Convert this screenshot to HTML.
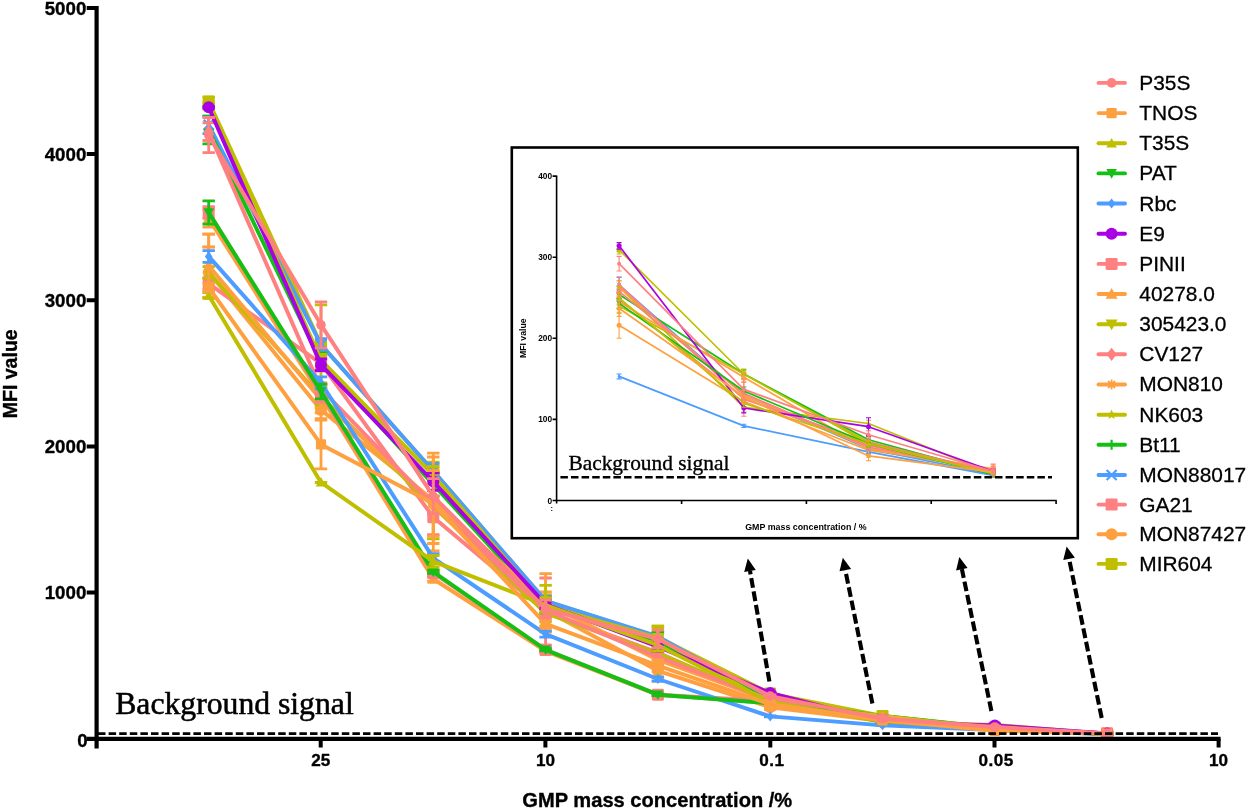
<!DOCTYPE html>
<html><head><meta charset="utf-8"><title>MFI value vs GMP mass concentration</title>
<style>html,body{margin:0;padding:0;background:#fff}svg{display:block}svg{will-change:transform;transform:translateZ(0)}</style></head>
<body>
<svg width="1247" height="809" viewBox="0 0 1247 809">
<rect width="1247" height="809" fill="#fff"/>
<g id="main">
<path d="M208.7 97.1V105.8M202.5 97.1H214.9M202.5 105.8H214.9M321.0 304.8V384.3M314.8 304.8H327.2M314.8 384.3H327.2M433.3 462.2V479.8M427.1 462.2H439.5M427.1 479.8H439.5M545.6 595.0V606.7M539.4 595.0H551.8M539.4 606.7H551.8M657.9 628.4V646.0M651.7 628.4H664.1M651.7 646.0H664.1M770.2 692.9V694.4M764.0 692.9H776.4M764.0 694.4H776.4M882.5 715.1V716.9M876.3 715.1H888.7M876.3 716.9H888.7M994.8 727.7V728.9M988.6 727.7H1001.0M988.6 728.9H1001.0M1107.1 733.2V734.1M1100.9 733.2H1113.3M1100.9 734.1H1113.3" stroke="#BFBF00" stroke-width="2.8" fill="none"/>
<polyline points="208.7,101.5 321.0,344.6 433.3,471.0 545.6,600.8 657.9,637.2 770.2,693.6 882.5,716.0 994.8,728.3 1107.1,733.7" stroke="#BFBF00" stroke-width="3.95" fill="none" stroke-linejoin="round" stroke-linecap="round"/>
<rect x="202.7" y="95.5" width="12.0" height="12.0" rx="1.4" fill="#BFBF00"/>
<rect x="315.0" y="338.6" width="12.0" height="12.0" rx="1.4" fill="#BFBF00"/>
<rect x="427.3" y="465.0" width="12.0" height="12.0" rx="1.4" fill="#BFBF00"/>
<rect x="539.6" y="594.8" width="12.0" height="12.0" rx="1.4" fill="#BFBF00"/>
<rect x="651.9" y="631.2" width="12.0" height="12.0" rx="1.4" fill="#BFBF00"/>
<rect x="764.2" y="687.6" width="12.0" height="12.0" rx="1.4" fill="#BFBF00"/>
<rect x="876.5" y="710.0" width="12.0" height="12.0" rx="1.4" fill="#BFBF00"/>
<rect x="988.8" y="722.3" width="12.0" height="12.0" rx="1.4" fill="#BFBF00"/>
<rect x="1101.1" y="727.7" width="12.0" height="12.0" rx="1.4" fill="#BFBF00"/>
<path d="M208.7 247.1V297.3M202.5 247.1H214.9M202.5 297.3H214.9M321.0 401.1V418.7M314.8 401.1H327.2M314.8 418.7H327.2M433.3 457.0V543.5M427.1 457.0H439.5M427.1 543.5H439.5M545.6 592.0V628.3M539.4 592.0H551.8M539.4 628.3H551.8M657.9 663.5V678.1M651.7 663.5H664.1M651.7 678.1H664.1M770.2 704.9V709.6M764.0 704.9H776.4M764.0 709.6H776.4M882.5 719.9V722.0M876.3 719.9H888.7M876.3 722.0H888.7M994.8 729.0V730.5M988.6 729.0H1001.0M988.6 730.5H1001.0M1107.1 732.7V733.8M1100.9 732.7H1113.3M1100.9 733.8H1113.3" stroke="#FFA040" stroke-width="2.8" fill="none"/>
<polyline points="208.7,272.2 321.0,409.9 433.3,500.2 545.6,610.2 657.9,670.8 770.2,707.2 882.5,721.0 994.8,729.7 1107.1,733.2" stroke="#FFA040" stroke-width="3.95" fill="none" stroke-linejoin="round" stroke-linecap="round"/>
<circle cx="208.7" cy="272.2" r="6.0" fill="#FFA040"/>
<circle cx="321.0" cy="409.9" r="6.0" fill="#FFA040"/>
<circle cx="433.3" cy="500.2" r="6.0" fill="#FFA040"/>
<circle cx="545.6" cy="610.2" r="6.0" fill="#FFA040"/>
<circle cx="657.9" cy="670.8" r="6.0" fill="#FFA040"/>
<circle cx="770.2" cy="707.2" r="6.0" fill="#FFA040"/>
<circle cx="882.5" cy="721.0" r="6.0" fill="#FFA040"/>
<circle cx="994.8" cy="729.7" r="6.0" fill="#FFA040"/>
<circle cx="1107.1" cy="733.2" r="6.0" fill="#FFA040"/>
<path d="M208.7 277.7V289.4M202.5 277.7H214.9M202.5 289.4H214.9M321.0 356.4V371.0M314.8 356.4H327.2M314.8 371.0H327.2M433.3 499.6V534.7M427.1 499.6H439.5M427.1 534.7H439.5M545.6 578.0V645.2M539.4 578.0H551.8M539.4 645.2H551.8M657.9 645.2V659.9M651.7 645.2H664.1M651.7 659.9H664.1M770.2 701.5V703.6M764.0 701.5H776.4M764.0 703.6H776.4M882.5 719.5V721.3M876.3 719.5H888.7M876.3 721.3H888.7M994.8 728.1V729.6M988.6 728.1H1001.0M988.6 729.6H1001.0M1107.1 733.0V734.1M1100.9 733.0H1113.3M1100.9 734.1H1113.3" stroke="#FF8080" stroke-width="2.8" fill="none"/>
<polyline points="208.7,283.6 321.0,363.7 433.3,517.2 545.6,611.6 657.9,652.6 770.2,702.5 882.5,720.4 994.8,728.9 1107.1,733.5" stroke="#FF8080" stroke-width="3.95" fill="none" stroke-linejoin="round" stroke-linecap="round"/>
<rect x="202.7" y="277.6" width="12.0" height="12.0" rx="1.4" fill="#FF8080"/>
<rect x="315.0" y="357.7" width="12.0" height="12.0" rx="1.4" fill="#FF8080"/>
<rect x="427.3" y="511.2" width="12.0" height="12.0" rx="1.4" fill="#FF8080"/>
<rect x="539.6" y="605.6" width="12.0" height="12.0" rx="1.4" fill="#FF8080"/>
<rect x="651.9" y="646.6" width="12.0" height="12.0" rx="1.4" fill="#FF8080"/>
<rect x="764.2" y="696.5" width="12.0" height="12.0" rx="1.4" fill="#FF8080"/>
<rect x="876.5" y="714.4" width="12.0" height="12.0" rx="1.4" fill="#FF8080"/>
<rect x="988.8" y="722.9" width="12.0" height="12.0" rx="1.4" fill="#FF8080"/>
<rect x="1101.1" y="727.5" width="12.0" height="12.0" rx="1.4" fill="#FF8080"/>
<path d="M208.7 116.1V133.6M202.5 116.1H214.9M202.5 133.6H214.9M321.0 338.7V350.4M314.8 338.7H327.2M314.8 350.4H327.2M433.3 463.7V478.3M427.1 463.7H439.5M427.1 478.3H439.5M545.6 596.4V605.2M539.4 596.4H551.8M539.4 605.2H551.8M657.9 632.1V640.9M651.7 632.1H664.1M651.7 640.9H664.1M770.2 698.6V701.2M764.0 698.6H776.4M764.0 701.2H776.4M882.5 718.9V720.7M876.3 718.9H888.7M876.3 720.7H888.7M994.8 728.9V730.0M988.6 728.9H1001.0M988.6 730.0H1001.0M1107.1 733.7V734.6M1100.9 733.7H1113.3M1100.9 734.6H1113.3" stroke="#4D9CFF" stroke-width="2.8" fill="none"/>
<polyline points="208.7,124.8 321.0,344.6 433.3,471.0 545.6,600.8 657.9,636.5 770.2,699.9 882.5,719.8 994.8,729.4 1107.1,734.1" stroke="#4D9CFF" stroke-width="3.95" fill="none" stroke-linejoin="round" stroke-linecap="round"/>
<path d="M203.7 119.8L213.7 129.8M203.7 129.8L213.7 119.8" stroke="#4D9CFF" stroke-width="2.4" fill="none"/>
<path d="M316.0 339.6L326.0 349.6M316.0 349.6L326.0 339.6" stroke="#4D9CFF" stroke-width="2.4" fill="none"/>
<path d="M428.3 466.0L438.3 476.0M428.3 476.0L438.3 466.0" stroke="#4D9CFF" stroke-width="2.4" fill="none"/>
<path d="M540.6 595.8L550.6 605.8M540.6 605.8L550.6 595.8" stroke="#4D9CFF" stroke-width="2.4" fill="none"/>
<path d="M652.9 631.5L662.9 641.5M652.9 641.5L662.9 631.5" stroke="#4D9CFF" stroke-width="2.4" fill="none"/>
<path d="M765.2 694.9L775.2 704.9M765.2 704.9L775.2 694.9" stroke="#4D9CFF" stroke-width="2.4" fill="none"/>
<path d="M877.5 714.8L887.5 724.8M877.5 724.8L887.5 714.8" stroke="#4D9CFF" stroke-width="2.4" fill="none"/>
<path d="M989.8 724.4L999.8 734.4M989.8 734.4L999.8 724.4" stroke="#4D9CFF" stroke-width="2.4" fill="none"/>
<path d="M1102.1 729.1L1112.1 739.1M1102.1 739.1L1112.1 729.1" stroke="#4D9CFF" stroke-width="2.4" fill="none"/>
<path d="M208.7 116.1V143.8M202.5 116.1H214.9M202.5 143.8H214.9M321.0 352.9V370.4M314.8 352.9H327.2M314.8 370.4H327.2M433.3 472.8V496.1M427.1 472.8H439.5M427.1 496.1H439.5M545.6 601.4V613.1M539.4 601.4H551.8M539.4 613.1H551.8M657.9 632.1V649.6M651.7 632.1H664.1M651.7 649.6H664.1M770.2 700.5V702.8M764.0 700.5H776.4M764.0 702.8H776.4M882.5 715.3V716.7M876.3 715.3H888.7M876.3 716.7H888.7M994.8 727.3V728.4M988.6 727.3H1001.0M988.6 728.4H1001.0M1107.1 733.5V734.4M1100.9 733.5H1113.3M1100.9 734.4H1113.3" stroke="#15C015" stroke-width="2.8" fill="none"/>
<polyline points="208.7,130.0 321.0,361.7 433.3,484.4 545.6,607.2 657.9,640.9 770.2,701.7 882.5,716.0 994.8,727.8 1107.1,734.0" stroke="#15C015" stroke-width="3.95" fill="none" stroke-linejoin="round" stroke-linecap="round"/>
<path d="M203.7 130.0H213.7M208.7 125.0V135.0" stroke="#15C015" stroke-width="2.4" fill="none"/>
<path d="M316.0 361.7H326.0M321.0 356.7V366.7" stroke="#15C015" stroke-width="2.4" fill="none"/>
<path d="M428.3 484.4H438.3M433.3 479.4V489.4" stroke="#15C015" stroke-width="2.4" fill="none"/>
<path d="M540.6 607.2H550.6M545.6 602.2V612.2" stroke="#15C015" stroke-width="2.4" fill="none"/>
<path d="M652.9 640.9H662.9M657.9 635.9V645.9" stroke="#15C015" stroke-width="2.4" fill="none"/>
<path d="M765.2 701.7H775.2M770.2 696.7V706.7" stroke="#15C015" stroke-width="2.4" fill="none"/>
<path d="M877.5 716.0H887.5M882.5 711.0V721.0" stroke="#15C015" stroke-width="2.4" fill="none"/>
<path d="M989.8 727.8H999.8M994.8 722.8V732.8" stroke="#15C015" stroke-width="2.4" fill="none"/>
<path d="M1102.1 734.0H1112.1M1107.1 729.0V739.0" stroke="#15C015" stroke-width="2.4" fill="none"/>
<path d="M208.7 266.6V278.3M202.5 266.6H214.9M202.5 278.3H214.9M321.0 388.0V405.5M314.8 388.0H327.2M314.8 405.5H327.2M433.3 473.9V538.8M427.1 473.9H439.5M427.1 538.8H439.5M545.6 604.3V621.9M539.4 604.3H551.8M539.4 621.9H551.8M657.9 626.1V681.1M651.7 626.1H664.1M651.7 681.1H664.1M770.2 699.2V701.5M764.0 699.2H776.4M764.0 701.5H776.4M882.5 721.1V722.9M876.3 721.1H888.7M876.3 722.9H888.7M994.8 724.3V725.5M988.6 724.3H1001.0M988.6 725.5H1001.0M1107.1 733.5V734.4M1100.9 733.5H1113.3M1100.9 734.4H1113.3" stroke="#BFBF00" stroke-width="2.8" fill="none"/>
<polyline points="208.7,272.5 321.0,396.7 433.3,506.4 545.6,613.1 657.9,653.6 770.2,700.4 882.5,722.0 994.8,724.9 1107.1,734.0" stroke="#BFBF00" stroke-width="3.95" fill="none" stroke-linejoin="round" stroke-linecap="round"/>
<path d="M208.7 267.2L210.0 270.7L213.7 270.9L210.8 273.2L211.8 276.7L208.7 274.7L205.6 276.7L206.6 273.2L203.7 270.9L207.4 270.7Z" fill="#BFBF00"/>
<path d="M321.0 391.5L322.3 394.9L326.0 395.1L323.1 397.4L324.1 401.0L321.0 399.0L317.9 401.0L318.9 397.4L316.0 395.1L319.7 394.9Z" fill="#BFBF00"/>
<path d="M433.3 501.1L434.6 504.6L438.3 504.8L435.4 507.1L436.4 510.6L433.3 508.6L430.2 510.6L431.2 507.1L428.3 504.8L432.0 504.6Z" fill="#BFBF00"/>
<path d="M545.6 607.8L546.9 611.3L550.6 611.5L547.7 613.8L548.7 617.3L545.6 615.3L542.5 617.3L543.5 613.8L540.6 611.5L544.3 611.3Z" fill="#BFBF00"/>
<path d="M657.9 648.3L659.2 651.8L662.9 652.0L660.0 654.3L661.0 657.8L657.9 655.8L654.8 657.8L655.8 654.3L652.9 652.0L656.6 651.8Z" fill="#BFBF00"/>
<path d="M770.2 695.1L771.5 698.5L775.2 698.7L772.3 701.0L773.3 704.6L770.2 702.6L767.1 704.6L768.1 701.0L765.2 698.7L768.9 698.5Z" fill="#BFBF00"/>
<path d="M882.5 716.7L883.8 720.2L887.5 720.4L884.6 722.7L885.6 726.2L882.5 724.2L879.4 726.2L880.4 722.7L877.5 720.4L881.2 720.2Z" fill="#BFBF00"/>
<path d="M994.8 719.7L996.1 723.1L999.8 723.3L996.9 725.6L997.9 729.2L994.8 727.2L991.7 729.2L992.7 725.6L989.8 723.3L993.5 723.1Z" fill="#BFBF00"/>
<path d="M1107.1 728.7L1108.4 732.2L1112.1 732.4L1109.2 734.7L1110.2 738.2L1107.1 736.2L1104.0 738.2L1105.0 734.7L1102.1 732.4L1105.8 732.2Z" fill="#BFBF00"/>
<path d="M208.7 234.2V297.3M202.5 234.2H214.9M202.5 297.3H214.9M321.0 386.5V412.8M314.8 386.5H327.2M314.8 412.8H327.2M433.3 453.2V550.8M427.1 453.2H439.5M427.1 550.8H439.5M545.6 573.6V632.1M539.4 573.6H551.8M539.4 632.1H551.8M657.9 651.1V668.6M651.7 651.1H664.1M651.7 668.6H664.1M770.2 699.2V701.5M764.0 699.2H776.4M764.0 701.5H776.4M882.5 718.9V720.7M876.3 718.9H888.7M876.3 720.7H888.7M994.8 728.6V730.0M988.6 728.6H1001.0M988.6 730.0H1001.0M1107.1 732.4V733.8M1100.9 732.4H1113.3M1100.9 733.8H1113.3" stroke="#FFA040" stroke-width="2.8" fill="none"/>
<polyline points="208.7,265.8 321.0,399.7 433.3,502.0 545.6,602.9 657.9,659.9 770.2,700.4 882.5,719.8 994.8,729.3 1107.1,733.1" stroke="#FFA040" stroke-width="3.95" fill="none" stroke-linejoin="round" stroke-linecap="round"/>
<path d="M203.7 265.8H213.7M208.7 260.8V270.8M205.2 262.3L212.2 269.3M205.2 269.3L212.2 262.3" stroke="#FFA040" stroke-width="2.0" fill="none"/>
<path d="M316.0 399.7H326.0M321.0 394.7V404.7M317.5 396.2L324.5 403.2M317.5 403.2L324.5 396.2" stroke="#FFA040" stroke-width="2.0" fill="none"/>
<path d="M428.3 502.0H438.3M433.3 497.0V507.0M429.8 498.5L436.8 505.5M429.8 505.5L436.8 498.5" stroke="#FFA040" stroke-width="2.0" fill="none"/>
<path d="M540.6 602.9H550.6M545.6 597.9V607.9M542.1 599.4L549.1 606.4M542.1 606.4L549.1 599.4" stroke="#FFA040" stroke-width="2.0" fill="none"/>
<path d="M652.9 659.9H662.9M657.9 654.9V664.9M654.4 656.4L661.4 663.4M654.4 663.4L661.4 656.4" stroke="#FFA040" stroke-width="2.0" fill="none"/>
<path d="M765.2 700.4H775.2M770.2 695.4V705.4M766.7 696.9L773.7 703.9M766.7 703.9L773.7 696.9" stroke="#FFA040" stroke-width="2.0" fill="none"/>
<path d="M877.5 719.8H887.5M882.5 714.8V724.8M879.0 716.3L886.0 723.3M879.0 723.3L886.0 716.3" stroke="#FFA040" stroke-width="2.0" fill="none"/>
<path d="M989.8 729.3H999.8M994.8 724.3V734.3M991.3 725.8L998.3 732.8M991.3 732.8L998.3 725.8" stroke="#FFA040" stroke-width="2.0" fill="none"/>
<path d="M1102.1 733.1H1112.1M1107.1 728.1V738.1M1103.6 729.6L1110.6 736.6M1103.6 736.6L1110.6 729.6" stroke="#FFA040" stroke-width="2.0" fill="none"/>
<path d="M208.7 122.9V140.5M202.5 122.9H214.9M202.5 140.5H214.9M321.0 383.0V394.7M314.8 383.0H327.2M314.8 394.7H327.2M433.3 496.1V513.7M427.1 496.1H439.5M427.1 513.7H439.5M545.6 604.3V616.0M539.4 604.3H551.8M539.4 616.0H551.8M657.9 648.2V665.7M651.7 648.2H664.1M651.7 665.7H664.1M770.2 698.5V701.4M764.0 698.5H776.4M764.0 701.4H776.4M882.5 717.5V723.6M876.3 717.5H888.7M876.3 723.6H888.7M994.8 727.4V729.2M988.6 727.4H1001.0M988.6 729.2H1001.0M1107.1 733.1V734.3M1100.9 733.1H1113.3M1100.9 734.3H1113.3" stroke="#FF8080" stroke-width="2.8" fill="none"/>
<polyline points="208.7,131.7 321.0,388.8 433.3,504.9 545.6,610.2 657.9,656.9 770.2,699.9 882.5,720.5 994.8,728.3 1107.1,733.7" stroke="#FF8080" stroke-width="3.95" fill="none" stroke-linejoin="round" stroke-linecap="round"/>
<path d="M203.6 131.7L208.7 125.1L213.8 131.7L208.7 138.3Z" fill="#FF8080"/>
<path d="M315.9 388.8L321.0 382.2L326.1 388.8L321.0 395.4Z" fill="#FF8080"/>
<path d="M428.2 504.9L433.3 498.3L438.4 504.9L433.3 511.5Z" fill="#FF8080"/>
<path d="M540.5 610.2L545.6 603.6L550.7 610.2L545.6 616.8Z" fill="#FF8080"/>
<path d="M652.8 656.9L657.9 650.3L663.0 656.9L657.9 663.5Z" fill="#FF8080"/>
<path d="M765.1 699.9L770.2 693.3L775.3 699.9L770.2 706.5Z" fill="#FF8080"/>
<path d="M877.4 720.5L882.5 713.9L887.6 720.5L882.5 727.1Z" fill="#FF8080"/>
<path d="M989.7 728.3L994.8 721.7L999.9 728.3L994.8 734.9Z" fill="#FF8080"/>
<path d="M1102.0 733.7L1107.1 727.1L1112.2 733.7L1107.1 740.3Z" fill="#FF8080"/>
<path d="M208.7 102.9V108.8M202.5 102.9H214.9M202.5 108.8H214.9M321.0 354.3V366.0M314.8 354.3H327.2M314.8 366.0H327.2M433.3 466.5V484.0M427.1 466.5H439.5M427.1 484.0H439.5M545.6 585.3V626.2M539.4 585.3H551.8M539.4 626.2H551.8M657.9 626.2V649.6M651.7 626.2H664.1M651.7 649.6H664.1M770.2 702.4V705.0M764.0 702.4H776.4M764.0 705.0H776.4M882.5 715.3V716.7M876.3 715.3H888.7M876.3 716.7H888.7M994.8 728.0V729.2M988.6 728.0H1001.0M988.6 729.2H1001.0M1107.1 733.4V734.3M1100.9 733.4H1113.3M1100.9 734.3H1113.3" stroke="#BFBF00" stroke-width="2.8" fill="none"/>
<polyline points="208.7,105.8 321.0,360.2 433.3,475.2 545.6,605.8 657.9,637.9 770.2,703.7 882.5,716.0 994.8,728.6 1107.1,733.8" stroke="#BFBF00" stroke-width="3.95" fill="none" stroke-linejoin="round" stroke-linecap="round"/>
<path d="M202.7 101.0L214.7 101.0L208.7 111.8Z" fill="#BFBF00"/>
<path d="M315.0 355.4L327.0 355.4L321.0 366.2Z" fill="#BFBF00"/>
<path d="M427.3 470.4L439.3 470.4L433.3 481.2Z" fill="#BFBF00"/>
<path d="M539.6 601.0L551.6 601.0L545.6 611.8Z" fill="#BFBF00"/>
<path d="M651.9 633.1L663.9 633.1L657.9 643.9Z" fill="#BFBF00"/>
<path d="M764.2 698.9L776.2 698.9L770.2 709.7Z" fill="#BFBF00"/>
<path d="M876.5 711.2L888.5 711.2L882.5 722.0Z" fill="#BFBF00"/>
<path d="M988.8 723.8L1000.8 723.8L994.8 734.6Z" fill="#BFBF00"/>
<path d="M1101.1 729.0L1113.1 729.0L1107.1 739.8Z" fill="#BFBF00"/>
<path d="M208.7 209.6V227.2M202.5 209.6H214.9M202.5 227.2H214.9M321.0 384.2V407.6M314.8 384.2H327.2M314.8 407.6H327.2M433.3 577.0V581.1M427.1 577.0H439.5M427.1 581.1H439.5M545.6 649.3V652.8M539.4 649.3H551.8M539.4 652.8H551.8M657.9 693.5V696.4M651.7 693.5H664.1M651.7 696.4H664.1M770.2 701.8V704.2M764.0 701.8H776.4M764.0 704.2H776.4M882.5 715.7V717.5M876.3 715.7H888.7M876.3 717.5H888.7M994.8 728.9V730.3M988.6 728.9H1001.0M988.6 730.3H1001.0M1107.1 732.7V733.8M1100.9 732.7H1113.3M1100.9 733.8H1113.3" stroke="#FFA040" stroke-width="2.8" fill="none"/>
<polyline points="208.7,218.4 321.0,395.9 433.3,579.0 545.6,651.1 657.9,694.9 770.2,703.0 882.5,716.6 994.8,729.6 1107.1,733.2" stroke="#FFA040" stroke-width="3.95" fill="none" stroke-linejoin="round" stroke-linecap="round"/>
<path d="M202.7 223.2L214.7 223.2L208.7 212.4Z" fill="#FFA040"/>
<path d="M315.0 400.7L327.0 400.7L321.0 389.9Z" fill="#FFA040"/>
<path d="M427.3 583.8L439.3 583.8L433.3 573.0Z" fill="#FFA040"/>
<path d="M539.6 655.9L551.6 655.9L545.6 645.1Z" fill="#FFA040"/>
<path d="M651.9 699.7L663.9 699.7L657.9 688.9Z" fill="#FFA040"/>
<path d="M764.2 707.8L776.2 707.8L770.2 697.0Z" fill="#FFA040"/>
<path d="M876.5 721.4L888.5 721.4L882.5 710.6Z" fill="#FFA040"/>
<path d="M988.8 734.4L1000.8 734.4L994.8 723.6Z" fill="#FFA040"/>
<path d="M1101.1 738.0L1113.1 738.0L1107.1 727.2Z" fill="#FFA040"/>
<path d="M208.7 206.7V218.4M202.5 206.7H214.9M202.5 218.4H214.9M321.0 384.8V402.3M314.8 384.8H327.2M314.8 402.3H327.2M433.3 571.1V574.6M427.1 571.1H439.5M427.1 574.6H439.5M545.6 648.3V651.2M539.4 648.3H551.8M539.4 651.2H551.8M657.9 693.5V695.8M651.7 693.5H664.1M651.7 695.8H664.1M770.2 700.1V702.1M764.0 700.1H776.4M764.0 702.1H776.4M882.5 718.8V720.2M876.3 718.8H888.7M876.3 720.2H888.7M994.8 728.6V729.7M988.6 728.6H1001.0M988.6 729.7H1001.0M1107.1 732.2V734.6M1100.9 732.2H1113.3M1100.9 734.6H1113.3" stroke="#FF8080" stroke-width="2.8" fill="none"/>
<polyline points="208.7,212.6 321.0,393.5 433.3,572.9 545.6,649.8 657.9,694.7 770.2,701.1 882.5,719.5 994.8,729.2 1107.1,733.4" stroke="#FF8080" stroke-width="3.95" fill="none" stroke-linejoin="round" stroke-linecap="round"/>
<rect x="202.7" y="206.6" width="12.0" height="12.0" rx="1.4" fill="#FF8080"/>
<rect x="315.0" y="387.5" width="12.0" height="12.0" rx="1.4" fill="#FF8080"/>
<rect x="427.3" y="566.9" width="12.0" height="12.0" rx="1.4" fill="#FF8080"/>
<rect x="539.6" y="643.8" width="12.0" height="12.0" rx="1.4" fill="#FF8080"/>
<rect x="651.9" y="688.7" width="12.0" height="12.0" rx="1.4" fill="#FF8080"/>
<rect x="764.2" y="695.1" width="12.0" height="12.0" rx="1.4" fill="#FF8080"/>
<rect x="876.5" y="713.5" width="12.0" height="12.0" rx="1.4" fill="#FF8080"/>
<rect x="988.8" y="723.2" width="12.0" height="12.0" rx="1.4" fill="#FF8080"/>
<rect x="1101.1" y="727.4" width="12.0" height="12.0" rx="1.4" fill="#FF8080"/>
<path d="M208.7 106.6V108.0M202.5 106.6H214.9M202.5 108.0H214.9M321.0 359.0V370.7M314.8 359.0H327.2M314.8 370.7H327.2M433.3 472.8V490.3M427.1 472.8H439.5M427.1 490.3H439.5M545.6 599.9V608.7M539.4 599.9H551.8M539.4 608.7H551.8M657.9 642.3V651.1M651.7 642.3H664.1M651.7 651.1H664.1M770.2 692.3V693.5M764.0 692.3H776.4M764.0 693.5H776.4M882.5 721.3V723.0M876.3 721.3H888.7M876.3 723.0H888.7M994.8 723.9V727.1M988.6 723.9H1001.0M988.6 727.1H1001.0M1107.1 733.1V734.0M1100.9 733.1H1113.3M1100.9 734.0H1113.3" stroke="#AA00E6" stroke-width="2.8" fill="none"/>
<polyline points="208.7,107.3 321.0,364.9 433.3,481.5 545.6,604.3 657.9,646.7 770.2,692.9 882.5,722.1 994.8,725.5 1107.1,733.5" stroke="#AA00E6" stroke-width="3.95" fill="none" stroke-linejoin="round" stroke-linecap="round"/>
<circle cx="208.7" cy="107.3" r="6.0" fill="#AA00E6"/>
<circle cx="321.0" cy="364.9" r="6.0" fill="#AA00E6"/>
<circle cx="433.3" cy="481.5" r="6.0" fill="#AA00E6"/>
<circle cx="545.6" cy="604.3" r="6.0" fill="#AA00E6"/>
<circle cx="657.9" cy="646.7" r="6.0" fill="#AA00E6"/>
<circle cx="770.2" cy="692.9" r="6.0" fill="#AA00E6"/>
<circle cx="882.5" cy="722.1" r="6.0" fill="#AA00E6"/>
<circle cx="994.8" cy="725.5" r="6.0" fill="#AA00E6"/>
<circle cx="1107.1" cy="733.5" r="6.0" fill="#AA00E6"/>
<path d="M208.7 250.6V262.3M202.5 250.6H214.9M202.5 262.3H214.9M321.0 376.9V388.6M314.8 376.9H327.2M314.8 388.6H327.2M433.3 553.7V562.5M427.1 553.7H439.5M427.1 562.5H439.5M545.6 631.2V637.1M539.4 631.2H551.8M539.4 637.1H551.8M657.9 676.8V681.2M651.7 676.8H664.1M651.7 681.2H664.1M770.2 716.0V716.9M764.0 716.0H776.4M764.0 716.9H776.4M882.5 725.1V725.6M876.3 725.1H888.7M876.3 725.6H888.7M994.8 729.7V730.3M988.6 729.7H1001.0M988.6 730.3H1001.0M1107.1 734.0V734.6M1100.9 734.0H1113.3M1100.9 734.6H1113.3" stroke="#4D9CFF" stroke-width="2.8" fill="none"/>
<polyline points="208.7,256.4 321.0,382.7 433.3,558.1 545.6,634.1 657.9,679.0 770.2,716.4 882.5,725.4 994.8,730.0 1107.1,734.3" stroke="#4D9CFF" stroke-width="3.95" fill="none" stroke-linejoin="round" stroke-linecap="round"/>
<path d="M204.9 256.4L208.7 251.5L212.5 256.4L208.7 261.4Z" fill="#4D9CFF"/>
<path d="M317.2 382.7L321.0 377.8L324.8 382.7L321.0 387.7Z" fill="#4D9CFF"/>
<path d="M429.5 558.1L433.3 553.2L437.1 558.1L433.3 563.1Z" fill="#4D9CFF"/>
<path d="M541.8 634.1L545.6 629.2L549.4 634.1L545.6 639.1Z" fill="#4D9CFF"/>
<path d="M654.1 679.0L657.9 674.1L661.7 679.0L657.9 684.0Z" fill="#4D9CFF"/>
<path d="M766.4 716.4L770.2 711.5L774.0 716.4L770.2 721.4Z" fill="#4D9CFF"/>
<path d="M878.7 725.4L882.5 720.4L886.3 725.4L882.5 730.3Z" fill="#4D9CFF"/>
<path d="M991.0 730.0L994.8 725.1L998.6 730.0L994.8 735.0Z" fill="#4D9CFF"/>
<path d="M1103.3 734.3L1107.1 729.3L1110.9 734.3L1107.1 739.2Z" fill="#4D9CFF"/>
<path d="M208.7 200.9V224.2M202.5 200.9H214.9M202.5 224.2H214.9M321.0 384.2V398.8M314.8 384.2H327.2M314.8 398.8H327.2M433.3 570.4V573.3M427.1 570.4H439.5M427.1 573.3H439.5M545.6 648.6V650.9M539.4 648.6H551.8M539.4 650.9H551.8M657.9 693.8V695.5M651.7 693.8H664.1M651.7 695.5H664.1M770.2 702.4V704.2M764.0 702.4H776.4M764.0 704.2H776.4M882.5 718.3V719.8M876.3 718.3H888.7M876.3 719.8H888.7M994.8 728.0V729.2M988.6 728.0H1001.0M988.6 729.2H1001.0M1107.1 733.8V734.4M1100.9 733.8H1113.3M1100.9 734.4H1113.3" stroke="#15C015" stroke-width="2.8" fill="none"/>
<polyline points="208.7,212.6 321.0,391.5 433.3,571.9 545.6,649.8 657.9,694.7 770.2,703.3 882.5,719.1 994.8,728.6 1107.1,734.1" stroke="#15C015" stroke-width="3.95" fill="none" stroke-linejoin="round" stroke-linecap="round"/>
<path d="M203.4 208.3L214.0 208.3L208.7 217.9Z" fill="#15C015"/>
<path d="M315.7 387.2L326.3 387.2L321.0 396.8Z" fill="#15C015"/>
<path d="M428.0 567.6L438.6 567.6L433.3 577.2Z" fill="#15C015"/>
<path d="M540.3 645.5L550.9 645.5L545.6 655.1Z" fill="#15C015"/>
<path d="M652.6 690.4L663.2 690.4L657.9 700.0Z" fill="#15C015"/>
<path d="M764.9 699.0L775.5 699.0L770.2 708.6Z" fill="#15C015"/>
<path d="M877.2 714.8L887.8 714.8L882.5 724.4Z" fill="#15C015"/>
<path d="M989.5 724.3L1000.1 724.3L994.8 733.9Z" fill="#15C015"/>
<path d="M1101.8 729.9L1112.4 729.9L1107.1 739.4Z" fill="#15C015"/>
<path d="M208.7 292.5V298.4M202.5 292.5H214.9M202.5 298.4H214.9M321.0 482.3V482.5M314.8 482.3H327.2M314.8 482.5H327.2M433.3 555.5V567.2M427.1 555.5H439.5M427.1 567.2H439.5M545.6 597.7V612.4M539.4 597.7H551.8M539.4 612.4H551.8M657.9 639.4V651.1M651.7 639.4H664.1M651.7 651.1H664.1M770.2 700.2V704.3M764.0 700.2H776.4M764.0 704.3H776.4M882.5 720.5V722.0M876.3 720.5H888.7M876.3 722.0H888.7M994.8 728.0V729.2M988.6 728.0H1001.0M988.6 729.2H1001.0M1107.1 733.5V734.4M1100.9 733.5H1113.3M1100.9 734.4H1113.3" stroke="#BFBF00" stroke-width="2.8" fill="none"/>
<polyline points="208.7,295.4 321.0,482.4 433.3,561.3 545.6,605.0 657.9,645.2 770.2,702.3 882.5,721.3 994.8,728.6 1107.1,734.0" stroke="#BFBF00" stroke-width="3.95" fill="none" stroke-linejoin="round" stroke-linecap="round"/>
<path d="M203.4 299.7L214.0 299.7L208.7 290.1Z" fill="#BFBF00"/>
<path d="M315.7 486.6L326.3 486.6L321.0 477.1Z" fill="#BFBF00"/>
<path d="M428.0 565.6L438.6 565.6L433.3 556.0Z" fill="#BFBF00"/>
<path d="M540.3 609.3L550.9 609.3L545.6 599.7Z" fill="#BFBF00"/>
<path d="M652.6 649.5L663.2 649.5L657.9 639.9Z" fill="#BFBF00"/>
<path d="M764.9 706.5L775.5 706.5L770.2 697.0Z" fill="#BFBF00"/>
<path d="M877.2 725.5L887.8 725.5L882.5 716.0Z" fill="#BFBF00"/>
<path d="M989.5 732.8L1000.1 732.8L994.8 723.3Z" fill="#BFBF00"/>
<path d="M1101.8 738.2L1112.4 738.2L1107.1 728.7Z" fill="#BFBF00"/>
<path d="M208.7 283.2V291.9M202.5 283.2H214.9M202.5 291.9H214.9M321.0 420.0V468.8M314.8 420.0H327.2M314.8 468.8H327.2M433.3 470.6V536.3M427.1 470.6H439.5M427.1 536.3H439.5M545.6 619.8V628.0M539.4 619.8H551.8M539.4 628.0H551.8M657.9 659.9V671.6M651.7 659.9H664.1M651.7 671.6H664.1M770.2 702.7V705.6M764.0 702.7H776.4M764.0 705.6H776.4M882.5 718.9V721.3M876.3 718.9H888.7M876.3 721.3H888.7M994.8 729.9V731.6M988.6 729.9H1001.0M988.6 731.6H1001.0M1107.1 733.2V734.1M1100.9 733.2H1113.3M1100.9 734.1H1113.3" stroke="#FFA040" stroke-width="2.8" fill="none"/>
<polyline points="208.7,287.5 321.0,444.4 433.3,503.5 545.6,623.9 657.9,665.7 770.2,704.2 882.5,720.1 994.8,730.8 1107.1,733.7" stroke="#FFA040" stroke-width="3.95" fill="none" stroke-linejoin="round" stroke-linecap="round"/>
<rect x="203.6" y="282.4" width="10.2" height="10.2" rx="1.2" fill="#FFA040"/>
<rect x="315.9" y="439.3" width="10.2" height="10.2" rx="1.2" fill="#FFA040"/>
<rect x="428.2" y="498.4" width="10.2" height="10.2" rx="1.2" fill="#FFA040"/>
<rect x="540.5" y="618.8" width="10.2" height="10.2" rx="1.2" fill="#FFA040"/>
<rect x="652.8" y="660.6" width="10.2" height="10.2" rx="1.2" fill="#FFA040"/>
<rect x="765.1" y="699.1" width="10.2" height="10.2" rx="1.2" fill="#FFA040"/>
<rect x="877.4" y="715.0" width="10.2" height="10.2" rx="1.2" fill="#FFA040"/>
<rect x="989.7" y="725.7" width="10.2" height="10.2" rx="1.2" fill="#FFA040"/>
<rect x="1102.0" y="728.6" width="10.2" height="10.2" rx="1.2" fill="#FFA040"/>
<path d="M208.7 117.5V152.6M202.5 117.5H214.9M202.5 152.6H214.9M321.0 301.9V347.8M314.8 301.9H327.2M314.8 347.8H327.2M433.3 478.7V513.8M427.1 478.7H439.5M427.1 513.8H439.5M545.6 600.2V617.8M539.4 600.2H551.8M539.4 617.8H551.8M657.9 630.2V647.7M651.7 630.2H664.1M651.7 647.7H664.1M770.2 694.8V697.4M764.0 694.8H776.4M764.0 697.4H776.4M882.5 717.0V720.5M876.3 717.0H888.7M876.3 720.5H888.7M994.8 726.2V727.7M988.6 726.2H1001.0M988.6 727.7H1001.0M1107.1 733.0V734.1M1100.9 733.0H1113.3M1100.9 734.1H1113.3" stroke="#FF8080" stroke-width="2.8" fill="none"/>
<polyline points="208.7,135.1 321.0,324.8 433.3,496.3 545.6,609.0 657.9,639.0 770.2,696.1 882.5,718.8 994.8,727.0 1107.1,733.5" stroke="#FF8080" stroke-width="3.95" fill="none" stroke-linejoin="round" stroke-linecap="round"/>
<circle cx="208.7" cy="135.1" r="4.8" fill="#FF8080"/>
<circle cx="321.0" cy="324.8" r="4.8" fill="#FF8080"/>
<circle cx="433.3" cy="496.3" r="4.8" fill="#FF8080"/>
<circle cx="545.6" cy="609.0" r="4.8" fill="#FF8080"/>
<circle cx="657.9" cy="639.0" r="4.8" fill="#FF8080"/>
<circle cx="770.2" cy="696.1" r="4.8" fill="#FF8080"/>
<circle cx="882.5" cy="718.8" r="4.8" fill="#FF8080"/>
<circle cx="994.8" cy="727.0" r="4.8" fill="#FF8080"/>
<circle cx="1107.1" cy="733.5" r="4.8" fill="#FF8080"/>
<path d="M208.7 234.1V246.9M202.5 234.1H214.9M202.5 246.9H214.9" stroke="#FFA040" stroke-width="2.8" fill="none"/>
</g>
<line x1="98" y1="733.6" x2="1218" y2="733.6" stroke="#000" stroke-width="2.8" stroke-dasharray="7.5 3.1"/>
<path d="M96.6 5.9V748.6" stroke="#000" stroke-width="4.2" fill="none"/>
<path d="M86.7 738.8H1220.6" stroke="#000" stroke-width="4.2" fill="none"/>
<path d="M86.7 592.6H96.6M86.7 446.4H96.6M86.7 300.3H96.6M86.7 154.1H96.6M86.7 7.9H96.6M320.7 738.8V747.4M545.4 738.8V747.4M770.3 738.8V747.4M994.5 738.8V747.4M1218.6 738.8V747.4" stroke="#000" stroke-width="4" fill="none"/>
<g font-family="Liberation Sans, Arial, sans-serif" font-weight="bold" fill="#000" stroke="#000" stroke-width="0.35">
<text x="87.7" y="746.5" font-size="18.7" text-anchor="end">0</text>
<text x="86.3" y="599.2" font-size="18.7" text-anchor="end">1000</text>
<text x="86.3" y="453.0" font-size="18.7" text-anchor="end">2000</text>
<text x="86.3" y="306.9" font-size="18.7" text-anchor="end">3000</text>
<text x="86.3" y="160.7" font-size="18.7" text-anchor="end">4000</text>
<text x="86.3" y="14.5" font-size="18.7" text-anchor="end">5000</text>
<text x="320.7" y="765.8" font-size="17.1" text-anchor="middle">25</text>
<text x="545.4" y="765.8" font-size="17.1" text-anchor="middle">10</text>
<text x="771.9" y="765.8" font-size="17.1" text-anchor="middle" letter-spacing="0.5">0.1</text>
<text x="996.1" y="765.8" font-size="17.1" text-anchor="middle" letter-spacing="0.5">0.05</text>
<text x="1218.6" y="765.8" font-size="17.1" text-anchor="middle">10</text>
<text x="657.3" y="807.2" font-size="20.1" text-anchor="middle">GMP mass concentration /%</text>
<text transform="translate(17.2 373.8) rotate(-90)" font-size="19.5" text-anchor="middle">MFI value</text>
</g>
<text x="115.2" y="713.7" font-family="Liberation Serif, Times New Roman, serif" font-size="31.7" fill="#000" stroke="#000" stroke-width="0.55">Background signal</text>
<g font-family="Liberation Sans, Arial, sans-serif" font-size="20.9" fill="#000">
<line x1="1098.5" y1="82.9" x2="1125" y2="82.9" stroke="#FF8080" stroke-width="3.9" stroke-linecap="round"/>
<circle cx="1111.6" cy="82.9" r="4.8" fill="#FF8080"/>
<text x="1139.3" y="89.9" stroke="#000" stroke-width="0.3">P35S</text>
<line x1="1098.5" y1="113.1" x2="1125" y2="113.1" stroke="#FFA040" stroke-width="3.9" stroke-linecap="round"/>
<rect x="1106.5" y="108.0" width="10.2" height="10.2" rx="1.2" fill="#FFA040"/>
<text x="1139.3" y="120.0" stroke="#000" stroke-width="0.3">TNOS</text>
<line x1="1098.5" y1="143.2" x2="1125" y2="143.2" stroke="#BFBF00" stroke-width="3.9" stroke-linecap="round"/>
<path d="M1106.3 147.5L1116.9 147.5L1111.6 137.9Z" fill="#BFBF00"/>
<text x="1139.3" y="150.2" stroke="#000" stroke-width="0.3">T35S</text>
<line x1="1098.5" y1="173.4" x2="1125" y2="173.4" stroke="#15C015" stroke-width="3.9" stroke-linecap="round"/>
<path d="M1106.3 169.1L1116.9 169.1L1111.6 178.7Z" fill="#15C015"/>
<text x="1139.3" y="180.3" stroke="#000" stroke-width="0.3">PAT</text>
<line x1="1098.5" y1="203.5" x2="1125" y2="203.5" stroke="#4D9CFF" stroke-width="3.9" stroke-linecap="round"/>
<path d="M1107.8 203.5L1111.6 198.6L1115.4 203.5L1111.6 208.5Z" fill="#4D9CFF"/>
<text x="1139.3" y="210.5" stroke="#000" stroke-width="0.3">Rbc</text>
<line x1="1098.5" y1="233.7" x2="1125" y2="233.7" stroke="#AA00E6" stroke-width="3.9" stroke-linecap="round"/>
<circle cx="1111.6" cy="233.7" r="6.0" fill="#AA00E6"/>
<text x="1139.3" y="240.7" stroke="#000" stroke-width="0.3">E9</text>
<line x1="1098.5" y1="263.9" x2="1125" y2="263.9" stroke="#FF8080" stroke-width="3.9" stroke-linecap="round"/>
<rect x="1105.6" y="257.9" width="12.0" height="12.0" rx="1.4" fill="#FF8080"/>
<text x="1139.3" y="270.8" stroke="#000" stroke-width="0.3">PINII</text>
<line x1="1098.5" y1="294.0" x2="1125" y2="294.0" stroke="#FFA040" stroke-width="3.9" stroke-linecap="round"/>
<path d="M1105.6 298.8L1117.6 298.8L1111.6 288.0Z" fill="#FFA040"/>
<text x="1139.3" y="301.0" stroke="#000" stroke-width="0.3">40278.0</text>
<line x1="1098.5" y1="324.2" x2="1125" y2="324.2" stroke="#BFBF00" stroke-width="3.9" stroke-linecap="round"/>
<path d="M1105.6 319.4L1117.6 319.4L1111.6 330.2Z" fill="#BFBF00"/>
<text x="1139.3" y="331.1" stroke="#000" stroke-width="0.3">305423.0</text>
<line x1="1098.5" y1="354.3" x2="1125" y2="354.3" stroke="#FF8080" stroke-width="3.9" stroke-linecap="round"/>
<path d="M1106.5 354.3L1111.6 347.7L1116.7 354.3L1111.6 360.9Z" fill="#FF8080"/>
<text x="1139.3" y="361.3" stroke="#000" stroke-width="0.3">CV127</text>
<line x1="1098.5" y1="384.5" x2="1125" y2="384.5" stroke="#FFA040" stroke-width="3.9" stroke-linecap="round"/>
<path d="M1106.6 384.5H1116.6M1111.6 379.5V389.5M1108.1 381.0L1115.1 388.0M1108.1 388.0L1115.1 381.0" stroke="#FFA040" stroke-width="1.8" fill="none"/>
<text x="1139.3" y="391.4" stroke="#000" stroke-width="0.3">MON810</text>
<line x1="1098.5" y1="414.7" x2="1125" y2="414.7" stroke="#BFBF00" stroke-width="3.9" stroke-linecap="round"/>
<path d="M1111.6 409.4L1112.9 412.8L1116.6 413.0L1113.7 415.4L1114.7 418.9L1111.6 416.9L1108.5 418.9L1109.5 415.4L1106.6 413.0L1110.3 412.8Z" fill="#BFBF00"/>
<text x="1139.3" y="421.6" stroke="#000" stroke-width="0.3">NK603</text>
<line x1="1098.5" y1="444.8" x2="1125" y2="444.8" stroke="#15C015" stroke-width="3.9" stroke-linecap="round"/>
<path d="M1106.6 444.8H1116.6M1111.6 439.8V449.8" stroke="#15C015" stroke-width="2.2" fill="none"/>
<text x="1139.3" y="451.8" stroke="#000" stroke-width="0.3">Bt11</text>
<line x1="1098.5" y1="475.0" x2="1125" y2="475.0" stroke="#4D9CFF" stroke-width="3.9" stroke-linecap="round"/>
<path d="M1106.6 470.0L1116.6 480.0M1106.6 480.0L1116.6 470.0" stroke="#4D9CFF" stroke-width="2.2" fill="none"/>
<text x="1139.3" y="481.9" stroke="#000" stroke-width="0.3">MON88017</text>
<line x1="1098.5" y1="504.6" x2="1125" y2="504.6" stroke="#FF8080" stroke-width="3.9" stroke-linecap="round"/>
<rect x="1105.6" y="498.6" width="12.0" height="12.0" rx="1.4" fill="#FF8080"/>
<text x="1139.3" y="511.6" stroke="#000" stroke-width="0.3">GA21</text>
<line x1="1098.5" y1="534.3" x2="1125" y2="534.3" stroke="#FFA040" stroke-width="3.9" stroke-linecap="round"/>
<circle cx="1111.6" cy="534.3" r="6.0" fill="#FFA040"/>
<text x="1139.3" y="541.2" stroke="#000" stroke-width="0.3">MON87427</text>
<line x1="1098.5" y1="563.9" x2="1125" y2="563.9" stroke="#BFBF00" stroke-width="3.9" stroke-linecap="round"/>
<rect x="1105.6" y="557.9" width="12.0" height="12.0" rx="1.4" fill="#BFBF00"/>
<text x="1139.3" y="570.8" stroke="#000" stroke-width="0.3">MIR604</text>
</g>
<rect x="511.8" y="147.5" width="566" height="390.7" fill="#fff" stroke="#000" stroke-width="2.6"/>
<g id="inset">
<path d="M619.1 245.8V254.0M616.6 245.8H621.6M616.6 254.0H621.6M743.8 369.1V378.9M741.3 369.1H746.3M741.3 378.9H746.3M868.5 438.9V445.4M866.0 438.9H871.0M866.0 445.4H871.0M993.2 469.7V474.5M990.7 469.7H995.7M990.7 474.5H995.7" stroke="#BFBF00" stroke-width="1.1" fill="none"/>
<polyline points="619.1,249.9 743.8,374.0 868.5,442.1 993.2,472.1" stroke="#BFBF00" stroke-width="1.7" fill="none" stroke-linejoin="round" stroke-linecap="round"/>
<rect x="616.6" y="247.4" width="5.0" height="5.0" rx="0.6" fill="#BFBF00"/>
<rect x="741.3" y="371.5" width="5.0" height="5.0" rx="0.6" fill="#BFBF00"/>
<rect x="866.0" y="439.6" width="5.0" height="5.0" rx="0.6" fill="#BFBF00"/>
<rect x="990.7" y="469.6" width="5.0" height="5.0" rx="0.6" fill="#BFBF00"/>
<path d="M619.1 312.3V338.3M616.6 312.3H621.6M616.6 338.3H621.6M743.8 395.9V407.2M741.3 395.9H746.3M741.3 407.2H746.3M868.5 446.2V454.3M866.0 446.2H871.0M866.0 454.3H871.0M993.2 466.4V472.9M990.7 466.4H995.7M990.7 472.9H995.7" stroke="#FFA040" stroke-width="1.1" fill="none"/>
<polyline points="619.1,325.3 743.8,401.6 868.5,450.2 993.2,469.7" stroke="#FFA040" stroke-width="1.7" fill="none" stroke-linejoin="round" stroke-linecap="round"/>
<circle cx="619.1" cy="325.3" r="2.5" fill="#FFA040"/>
<circle cx="743.8" cy="401.6" r="2.5" fill="#FFA040"/>
<circle cx="868.5" cy="450.2" r="2.5" fill="#FFA040"/>
<circle cx="993.2" cy="469.7" r="2.5" fill="#FFA040"/>
<path d="M619.1 293.7V305.0M616.6 293.7H621.6M616.6 305.0H621.6M743.8 393.4V403.2M741.3 393.4H746.3M741.3 403.2H746.3M868.5 441.3V449.4M866.0 441.3H871.0M866.0 449.4H871.0M993.2 468.1V474.5M990.7 468.1H995.7M990.7 474.5H995.7" stroke="#FF8080" stroke-width="1.1" fill="none"/>
<polyline points="619.1,299.4 743.8,398.3 868.5,445.4 993.2,471.3" stroke="#FF8080" stroke-width="1.7" fill="none" stroke-linejoin="round" stroke-linecap="round"/>
<rect x="616.6" y="296.9" width="5.0" height="5.0" rx="0.6" fill="#FF8080"/>
<rect x="741.3" y="395.8" width="5.0" height="5.0" rx="0.6" fill="#FF8080"/>
<rect x="866.0" y="442.8" width="5.0" height="5.0" rx="0.6" fill="#FF8080"/>
<rect x="990.7" y="468.8" width="5.0" height="5.0" rx="0.6" fill="#FF8080"/>
<path d="M619.1 277.5V292.1M616.6 277.5H621.6M616.6 292.1H621.6M743.8 390.2V399.9M741.3 390.2H746.3M741.3 399.9H746.3M868.5 445.4V451.8M866.0 445.4H871.0M866.0 451.8H871.0M993.2 472.1V477.0M990.7 472.1H995.7M990.7 477.0H995.7" stroke="#4D9CFF" stroke-width="1.1" fill="none"/>
<polyline points="619.1,284.8 743.8,395.1 868.5,448.6 993.2,474.5" stroke="#4D9CFF" stroke-width="1.7" fill="none" stroke-linejoin="round" stroke-linecap="round"/>
<path d="M617.0 282.7L621.2 286.9M617.0 286.9L621.2 282.7" stroke="#4D9CFF" stroke-width="1.0" fill="none"/>
<path d="M741.7 393.0L745.9 397.2M741.7 397.2L745.9 393.0" stroke="#4D9CFF" stroke-width="1.0" fill="none"/>
<path d="M866.4 446.5L870.6 450.7M866.4 450.7L870.6 446.5" stroke="#4D9CFF" stroke-width="1.0" fill="none"/>
<path d="M991.1 472.4L995.3 476.6M991.1 476.6L995.3 472.4" stroke="#4D9CFF" stroke-width="1.0" fill="none"/>
<path d="M619.1 288.0V301.0M616.6 288.0H621.6M616.6 301.0H621.6M743.8 369.9V378.0M741.3 369.9H746.3M741.3 378.0H746.3M868.5 436.4V442.9M866.0 436.4H871.0M866.0 442.9H871.0M993.2 471.3V476.2M990.7 471.3H995.7M990.7 476.2H995.7" stroke="#15C015" stroke-width="1.1" fill="none"/>
<polyline points="619.1,294.5 743.8,374.0 868.5,439.7 993.2,473.7" stroke="#15C015" stroke-width="1.7" fill="none" stroke-linejoin="round" stroke-linecap="round"/>
<path d="M617.0 294.5H621.2M619.1 292.4V296.6" stroke="#15C015" stroke-width="1.0" fill="none"/>
<path d="M741.7 374.0H745.9M743.8 371.9V376.1" stroke="#15C015" stroke-width="1.0" fill="none"/>
<path d="M866.4 439.7H870.6M868.5 437.6V441.8" stroke="#15C015" stroke-width="1.0" fill="none"/>
<path d="M991.1 473.7H995.3M993.2 471.6V475.8" stroke="#15C015" stroke-width="1.0" fill="none"/>
<path d="M619.1 280.7V293.7M616.6 280.7H621.6M616.6 293.7H621.6M743.8 402.4V412.1M741.3 402.4H746.3M741.3 412.1H746.3M868.5 420.2V426.7M866.0 420.2H871.0M866.0 426.7H871.0M993.2 471.3V476.2M990.7 471.3H995.7M990.7 476.2H995.7" stroke="#BFBF00" stroke-width="1.1" fill="none"/>
<polyline points="619.1,287.2 743.8,407.2 868.5,423.5 993.2,473.7" stroke="#BFBF00" stroke-width="1.7" fill="none" stroke-linejoin="round" stroke-linecap="round"/>
<path d="M619.1 285.0L619.7 286.4L621.2 286.5L620.0 287.5L620.4 289.0L619.1 288.2L617.8 289.0L618.2 287.5L617.0 286.5L618.5 286.4Z" fill="#BFBF00"/>
<path d="M743.8 405.0L744.4 406.5L745.9 406.6L744.7 407.5L745.1 409.0L743.8 408.2L742.5 409.0L742.9 407.5L741.7 406.6L743.2 406.5Z" fill="#BFBF00"/>
<path d="M868.5 421.2L869.1 422.7L870.6 422.8L869.4 423.7L869.8 425.2L868.5 424.4L867.2 425.2L867.6 423.7L866.4 422.8L867.9 422.7Z" fill="#BFBF00"/>
<path d="M993.2 471.5L993.8 473.0L995.3 473.1L994.1 474.0L994.5 475.5L993.2 474.7L991.9 475.5L992.3 474.0L991.1 473.1L992.6 473.0Z" fill="#BFBF00"/>
<path d="M619.1 280.7V293.7M616.6 280.7H621.6M616.6 293.7H621.6M743.8 390.2V399.9M741.3 390.2H746.3M741.3 399.9H746.3M868.5 443.7V451.8M866.0 443.7H871.0M866.0 451.8H871.0M993.2 464.8V472.9M990.7 464.8H995.7M990.7 472.9H995.7" stroke="#FFA040" stroke-width="1.1" fill="none"/>
<polyline points="619.1,287.2 743.8,395.1 868.5,447.8 993.2,468.9" stroke="#FFA040" stroke-width="1.7" fill="none" stroke-linejoin="round" stroke-linecap="round"/>
<path d="M617.0 287.2H621.2M619.1 285.1V289.3M617.6 285.7L620.6 288.7M617.6 288.7L620.6 285.7" stroke="#FFA040" stroke-width="0.8" fill="none"/>
<path d="M741.7 395.1H745.9M743.8 393.0V397.2M742.3 393.6L745.3 396.5M742.3 396.5L745.3 393.6" stroke="#FFA040" stroke-width="0.8" fill="none"/>
<path d="M866.4 447.8H870.6M868.5 445.7V449.9M867.0 446.3L870.0 449.3M867.0 449.3L870.0 446.3" stroke="#FFA040" stroke-width="0.8" fill="none"/>
<path d="M991.1 468.9H995.3M993.2 466.8V471.0M991.7 467.4L994.7 470.3M991.7 470.3L994.7 467.4" stroke="#FFA040" stroke-width="0.8" fill="none"/>
<path d="M619.1 276.7V292.9M616.6 276.7H621.6M616.6 292.9H621.6M743.8 382.1V416.2M741.3 382.1H746.3M741.3 416.2H746.3M868.5 437.2V447.0M866.0 437.2H871.0M866.0 447.0H871.0M993.2 468.9V475.4M990.7 468.9H995.7M990.7 475.4H995.7" stroke="#FF8080" stroke-width="1.1" fill="none"/>
<polyline points="619.1,284.8 743.8,399.1 868.5,442.1 993.2,472.1" stroke="#FF8080" stroke-width="1.7" fill="none" stroke-linejoin="round" stroke-linecap="round"/>
<path d="M617.0 284.8L619.1 282.0L621.2 284.8L619.1 287.5Z" fill="#FF8080"/>
<path d="M741.7 399.1L743.8 396.4L745.9 399.1L743.8 401.9Z" fill="#FF8080"/>
<path d="M866.4 442.1L868.5 439.3L870.6 442.1L868.5 444.9Z" fill="#FF8080"/>
<path d="M991.1 472.1L993.2 469.3L995.3 472.1L993.2 474.9Z" fill="#FF8080"/>
<path d="M619.1 298.6V313.2M616.6 298.6H621.6M616.6 313.2H621.6M743.8 369.9V378.0M741.3 369.9H746.3M741.3 378.0H746.3M868.5 440.5V447.0M866.0 440.5H871.0M866.0 447.0H871.0M993.2 470.5V475.4M990.7 470.5H995.7M990.7 475.4H995.7" stroke="#BFBF00" stroke-width="1.1" fill="none"/>
<polyline points="619.1,305.9 743.8,374.0 868.5,443.7 993.2,472.9" stroke="#BFBF00" stroke-width="1.7" fill="none" stroke-linejoin="round" stroke-linecap="round"/>
<path d="M616.6 303.8L621.6 303.8L619.1 308.4Z" fill="#BFBF00"/>
<path d="M741.3 372.0L746.3 372.0L743.8 376.5Z" fill="#BFBF00"/>
<path d="M866.0 441.7L871.0 441.7L868.5 446.2Z" fill="#BFBF00"/>
<path d="M990.7 470.9L995.7 470.9L993.2 475.4Z" fill="#BFBF00"/>
<path d="M619.1 295.3V308.3M616.6 295.3H621.6M616.6 308.3H621.6M743.8 372.4V382.1M741.3 372.4H746.3M741.3 382.1H746.3M868.5 445.4V453.5M866.0 445.4H871.0M866.0 453.5H871.0M993.2 466.4V472.9M990.7 466.4H995.7M990.7 472.9H995.7" stroke="#FFA040" stroke-width="1.1" fill="none"/>
<polyline points="619.1,301.8 743.8,377.2 868.5,449.4 993.2,469.7" stroke="#FFA040" stroke-width="1.7" fill="none" stroke-linejoin="round" stroke-linecap="round"/>
<path d="M616.6 303.8L621.6 303.8L619.1 299.3Z" fill="#FFA040"/>
<path d="M741.3 379.2L746.3 379.2L743.8 374.7Z" fill="#FFA040"/>
<path d="M866.0 451.4L871.0 451.4L868.5 446.9Z" fill="#FFA040"/>
<path d="M990.7 471.7L995.7 471.7L993.2 467.2Z" fill="#FFA040"/>
<path d="M619.1 285.6V296.9M616.6 285.6H621.6M616.6 296.9H621.6M743.8 389.4V397.5M741.3 389.4H746.3M741.3 397.5H746.3M868.5 443.7V450.2M866.0 443.7H871.0M866.0 450.2H871.0M993.2 464.0V477.0M990.7 464.0H995.7M990.7 477.0H995.7" stroke="#FF8080" stroke-width="1.1" fill="none"/>
<polyline points="619.1,291.3 743.8,393.4 868.5,447.0 993.2,470.5" stroke="#FF8080" stroke-width="1.7" fill="none" stroke-linejoin="round" stroke-linecap="round"/>
<rect x="616.6" y="288.7" width="5.0" height="5.0" rx="0.6" fill="#FF8080"/>
<rect x="741.3" y="390.9" width="5.0" height="5.0" rx="0.6" fill="#FF8080"/>
<rect x="866.0" y="444.5" width="5.0" height="5.0" rx="0.6" fill="#FF8080"/>
<rect x="990.7" y="468.0" width="5.0" height="5.0" rx="0.6" fill="#FF8080"/>
<path d="M619.1 242.6V249.1M616.6 242.6H621.6M616.6 249.1H621.6M743.8 403.2V412.9M741.3 403.2H746.3M741.3 412.9H746.3M868.5 417.8V435.6M866.0 417.8H871.0M866.0 435.6H871.0M993.2 468.9V473.7M990.7 468.9H995.7M990.7 473.7H995.7" stroke="#AA00E6" stroke-width="1.1" fill="none"/>
<polyline points="619.1,245.8 743.8,408.0 868.5,426.7 993.2,471.3" stroke="#AA00E6" stroke-width="1.7" fill="none" stroke-linejoin="round" stroke-linecap="round"/>
<circle cx="619.1" cy="245.8" r="2.5" fill="#AA00E6"/>
<circle cx="743.8" cy="408.0" r="2.5" fill="#AA00E6"/>
<circle cx="868.5" cy="426.7" r="2.5" fill="#AA00E6"/>
<circle cx="993.2" cy="471.3" r="2.5" fill="#AA00E6"/>
<path d="M619.1 374.0V378.9M616.6 374.0H621.6M616.6 378.9H621.6M743.8 424.3V427.5M741.3 424.3H746.3M741.3 427.5H746.3M868.5 450.2V453.5M866.0 450.2H871.0M866.0 453.5H871.0M993.2 473.7V477.0M990.7 473.7H995.7M990.7 477.0H995.7" stroke="#4D9CFF" stroke-width="1.1" fill="none"/>
<polyline points="619.1,376.4 743.8,425.9 868.5,451.8 993.2,475.4" stroke="#4D9CFF" stroke-width="1.7" fill="none" stroke-linejoin="round" stroke-linecap="round"/>
<path d="M617.5 376.4L619.1 374.3L620.7 376.4L619.1 378.5Z" fill="#4D9CFF"/>
<path d="M742.2 425.9L743.8 423.8L745.4 425.9L743.8 428.0Z" fill="#4D9CFF"/>
<path d="M866.9 451.8L868.5 449.8L870.1 451.8L868.5 453.9Z" fill="#4D9CFF"/>
<path d="M991.6 475.4L993.2 473.3L994.8 475.4L993.2 477.4Z" fill="#4D9CFF"/>
<path d="M619.1 298.6V308.3M616.6 298.6H621.6M616.6 308.3H621.6M743.8 387.0V395.1M741.3 387.0H746.3M741.3 395.1H746.3M868.5 440.5V447.0M866.0 440.5H871.0M866.0 447.0H871.0M993.2 472.9V476.2M990.7 472.9H995.7M990.7 476.2H995.7" stroke="#15C015" stroke-width="1.1" fill="none"/>
<polyline points="619.1,303.4 743.8,391.0 868.5,443.7 993.2,474.5" stroke="#15C015" stroke-width="1.7" fill="none" stroke-linejoin="round" stroke-linecap="round"/>
<path d="M616.9 301.6L621.3 301.6L619.1 305.7Z" fill="#15C015"/>
<path d="M741.6 389.2L746.0 389.2L743.8 393.2Z" fill="#15C015"/>
<path d="M866.3 441.9L870.7 441.9L868.5 446.0Z" fill="#15C015"/>
<path d="M991.0 472.8L995.4 472.8L993.2 476.8Z" fill="#15C015"/>
<path d="M619.1 286.4V309.1M616.6 286.4H621.6M616.6 309.1H621.6M743.8 399.1V407.2M741.3 399.1H746.3M741.3 407.2H746.3M868.5 440.5V447.0M866.0 440.5H871.0M866.0 447.0H871.0M993.2 471.3V476.2M990.7 471.3H995.7M990.7 476.2H995.7" stroke="#BFBF00" stroke-width="1.1" fill="none"/>
<polyline points="619.1,297.8 743.8,403.2 868.5,443.7 993.2,473.7" stroke="#BFBF00" stroke-width="1.7" fill="none" stroke-linejoin="round" stroke-linecap="round"/>
<path d="M616.9 299.5L621.3 299.5L619.1 295.5Z" fill="#BFBF00"/>
<path d="M741.6 405.0L746.0 405.0L743.8 401.0Z" fill="#BFBF00"/>
<path d="M866.3 445.5L870.7 445.5L868.5 441.5Z" fill="#BFBF00"/>
<path d="M991.0 475.5L995.4 475.5L993.2 471.5Z" fill="#BFBF00"/>
<path d="M619.1 300.2V316.4M616.6 300.2H621.6M616.6 316.4H621.6M743.8 390.2V403.2M741.3 390.2H746.3M741.3 403.2H746.3M868.5 451.0V460.8M866.0 451.0H871.0M866.0 460.8H871.0M993.2 469.7V474.5M990.7 469.7H995.7M990.7 474.5H995.7" stroke="#FFA040" stroke-width="1.1" fill="none"/>
<polyline points="619.1,308.3 743.8,396.7 868.5,455.9 993.2,472.1" stroke="#FFA040" stroke-width="1.7" fill="none" stroke-linejoin="round" stroke-linecap="round"/>
<rect x="617.0" y="306.2" width="4.3" height="4.3" rx="0.5" fill="#FFA040"/>
<rect x="741.7" y="394.6" width="4.3" height="4.3" rx="0.5" fill="#FFA040"/>
<rect x="866.4" y="453.8" width="4.3" height="4.3" rx="0.5" fill="#FFA040"/>
<rect x="991.1" y="470.0" width="4.3" height="4.3" rx="0.5" fill="#FFA040"/>
<path d="M619.1 256.4V271.0M616.6 256.4H621.6M616.6 271.0H621.6M743.8 379.7V399.1M741.3 379.7H746.3M741.3 399.1H746.3M868.5 430.8V438.9M866.0 430.8H871.0M866.0 438.9H871.0M993.2 468.1V474.5M990.7 468.1H995.7M990.7 474.5H995.7" stroke="#FF8080" stroke-width="1.1" fill="none"/>
<polyline points="619.1,263.7 743.8,389.4 868.5,434.8 993.2,471.3" stroke="#FF8080" stroke-width="1.7" fill="none" stroke-linejoin="round" stroke-linecap="round"/>
<circle cx="619.1" cy="263.7" r="2.0" fill="#FF8080"/>
<circle cx="743.8" cy="389.4" r="2.0" fill="#FF8080"/>
<circle cx="868.5" cy="434.8" r="2.0" fill="#FF8080"/>
<circle cx="993.2" cy="471.3" r="2.0" fill="#FF8080"/>
</g>
<line x1="560.4" y1="477.3" x2="1052" y2="477.3" stroke="#000" stroke-width="2.6" stroke-dasharray="7.5 3.1"/>
<path d="M556.6 175.6V503.5M552.6 500.5H1056.8M552.6 419.4H556.6M552.6 338.3H556.6M552.6 257.2H556.6M552.6 176.1H556.6M681.6 500.5V504.0M806.4 500.5V504.0M931.2 500.5V504.0M1056.1 500.5V504.0" stroke="#000" stroke-width="1.6" fill="none"/>
<g font-family="Liberation Sans, Arial, sans-serif" font-weight="bold" fill="#000">
<text x="552" y="503.5" font-size="8.3" text-anchor="end">0</text>
<text x="552" y="422.4" font-size="8.3" text-anchor="end">100</text>
<text x="552" y="341.3" font-size="8.3" text-anchor="end">200</text>
<text x="552" y="260.2" font-size="8.3" text-anchor="end">300</text>
<text x="552" y="179.1" font-size="8.3" text-anchor="end">400</text>
<text x="805.9" y="530" font-size="8.87" text-anchor="middle">GMP mass concentration / %</text>
<text transform="translate(526.3 338.2) rotate(-90)" font-size="8.7" text-anchor="middle">MFI value</text>
<text x="551.7" y="511" font-size="7.5" text-anchor="middle">:</text>
</g>
<text x="568.4" y="469.8" font-family="Liberation Serif, Times New Roman, serif" font-size="21.4" fill="#000" stroke="#000" stroke-width="0.35">Background signal</text>
<line x1="769.4" y1="681.5" x2="750.0" y2="570.9" stroke="#000" stroke-width="4.1" stroke-dasharray="9.8 3.8"/><path d="M747.8 558.5L755.8 569.9L744.2 571.9Z" fill="#000"/>
<line x1="872.4" y1="703.5" x2="845.3" y2="570.1" stroke="#000" stroke-width="4.1" stroke-dasharray="9.8 3.8"/><path d="M842.8 557.8L851.1 569.0L839.5 571.3Z" fill="#000"/>
<line x1="991.4" y1="711.0" x2="961.9" y2="569.2" stroke="#000" stroke-width="4.1" stroke-dasharray="9.8 3.8"/><path d="M959.3 556.9L967.6 568.0L956.1 570.4Z" fill="#000"/>
<line x1="1101.7" y1="718.0" x2="1069.1" y2="558.9" stroke="#000" stroke-width="4.1" stroke-dasharray="9.8 3.8"/><path d="M1066.6 546.6L1074.9 557.8L1063.3 560.1Z" fill="#000"/>
</svg>
</body></html>
